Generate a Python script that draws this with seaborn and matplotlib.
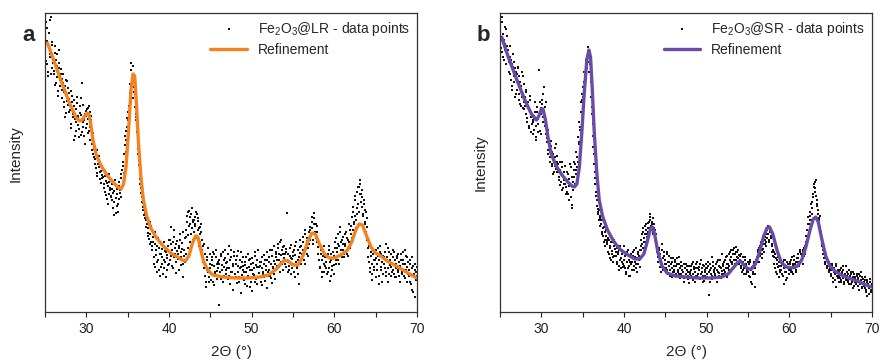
import numpy as np
import pandas as pd
import matplotlib
matplotlib.use('Agg')
import matplotlib.pyplot as plt
from matplotlib.ticker import MultipleLocator
import seaborn as sns

# scan grid: 25.0 .. 70.0 deg (0.1 steps) plus the half steps in between
two_theta = np.round(np.arange(250, 701) / 10, 1)
two_theta_half = np.round(np.arange(250, 700) / 10 + 0.05, 2)

# Fe2O3@LR data points (intensity, arbitrary units), one row per degree
lr_points = [
    262, 290, 248, 271, 236, 279, 258, 295, 244, 267,
    252, 238, 266, 229, 246, 258, 221, 249, 232, 243,
    233, 214, 229, 205, 226, 199, 218, 231, 207, 213,
    202, 221, 188, 210, 195, 212, 176, 203, 190, 215,
    194, 183, 206, 177, 197, 229, 185, 192, 168, 201,
    196, 188, 204, 181, 200, 172, 192, 162, 179, 155,
    161, 148, 157, 139, 152, 145, 133, 150, 141, 137,
    142, 128, 136, 120, 131, 113, 126, 138, 118, 124,
    116, 128, 104, 121, 110, 132, 99, 118, 108, 126,
    130, 119, 138, 125, 146, 158, 139, 167, 172, 185,
    178, 192, 206, 219, 249, 232, 238, 214, 225, 205,
    198, 186, 171, 158, 147, 133, 124, 115, 109, 102,
    106, 98, 92, 88, 79, 84, 73, 90, 70, 81,
    62, 75, 48, 68, 57, 40, 66, 52, 71, 58,
    45, 63, 55, 38, 70, 50, 60, 42, 57, 66,
    48, 72, 56, 85, 62, 44, 75, 58, 68, 39,
    71, 53, 64, 78, 47, 60, 69, 35, 56, 74,
    58, 82, 96, 77, 101, 88, 70, 98, 84, 92,
    80, 95, 88, 100, 76, 91, 84, 70, 78, 88,
    62, 50, 68, 36, 48, 25, 55, 40, 30, 58,
    44, 32, 52, 60, 27, 46, 38, 55, 41, 50,
    7, 48, 35, 58, 42, 30, 52, 45, 62, 38,
    50, 33, 66, 44, 28, 55, 40, 48, 22, 60,
    38, 52, 29, 46, 61, 35, 44, 19, 50, 42,
    55, 32, 47, 40, 26, 58, 36, 45, 53, 30,
    42, 21, 49, 37, 56, 33, 45, 28, 62, 39,
    35, 50, 27, 44, 38, 57, 31, 46, 24, 52,
    40, 55, 36, 48, 29, 62, 44, 51, 33, 58,
    60, 46, 68, 52, 40, 72, 57, 48, 65, 54,
    58, 45, 63, 99, 50, 42, 56, 67, 38, 53,
    48, 62, 35, 57, 70, 44, 52, 28, 65, 59,
    66, 54, 75, 60, 48, 82, 63, 71, 56, 68,
    72, 85, 78, 95, 68, 88, 99, 80, 74, 86,
    65, 52, 70, 44, 58, 35, 62, 48, 40, 55,
    50, 38, 58, 44, 66, 31, 52, 42, 60, 47,
    56, 70, 48, 64, 78, 52, 66, 85, 58, 72,
    62, 75, 55, 68, 80, 58, 72, 64, 88, 70,
    78, 95, 82, 105, 88, 112, 92, 120, 98, 108,
    125, 132, 118, 105, 115, 96, 108, 90, 100, 85,
    72, 55, 66, 40, 60, 48, 32, 58, 45, 52,
    35, 62, 48, 56, 28, 66, 42, 58, 50, 38,
    55, 44, 68, 40, 52, 30, 60, 47, 36, 58,
    48, 62, 38, 52, 44, 35, 56, 42, 50, 30,
    45, 58, 40, 52, 36, 62, 48, 42, 55, 38,
    42, 30, 52, 38, 22, 46, 35, 48, 15, 40,
    36,
]
lr_points_half = [
    275, 251, 284, 240, 266, 292, 255, 238, 270, 249,
    241, 259, 227, 252, 235, 216, 244, 262, 226, 238,
    222, 238, 210, 220, 195, 232, 211, 224, 200, 219,
    208, 184, 216, 198, 172, 206, 193, 181, 209, 196,
    187, 175, 199, 214, 180, 190, 207, 176, 198, 184,
    203, 193, 179, 206, 185, 196, 168, 174, 158, 163,
    153, 144, 162, 136, 148, 156, 140, 129, 146, 134,
    135, 124, 141, 117, 129, 138, 108, 130, 122, 115,
    123, 112, 119, 97, 127, 114, 106, 123, 100, 113,
    122, 134, 115, 142, 150, 132, 176, 160, 181, 194,
    200, 186, 228, 210, 242, 226, 246, 220, 218, 195,
    192, 180, 163, 152, 140, 128, 119, 110, 105, 97,
    100, 94, 85, 96, 76, 88, 68, 78, 86, 66,
    70, 55, 80, 45, 62, 50, 74, 42, 64, 36,
    58, 48, 66, 52, 44, 61, 35, 54, 47, 72,
    60, 52, 68, 46, 70, 55, 82, 64, 50, 61,
    58, 66, 42, 72, 55, 63, 48, 80, 62, 50,
    75, 90, 64, 100, 86, 95, 78, 104, 90, 72,
    92, 86, 74, 98, 82, 94, 66, 85, 80, 72,
    56, 66, 44, 58, 30, 52, 42, 64, 35, 48,
    38, 55, 47, 30, 58, 40, 62, 33, 48, 44,
    52, 40, 56, 33, 47, 60, 36, 54, 42, 49,
    44, 58, 36, 52, 40, 62, 34, 46, 56, 38,
    48, 35, 56, 40, 30, 52, 45, 60, 37, 46,
    40, 50, 28, 55, 44, 36, 52, 42, 25, 48,
    54, 38, 44, 60, 30, 47, 52, 35, 45, 50,
    46, 30, 55, 40, 48, 35, 52, 42, 60, 36,
    50, 42, 62, 34, 56, 45, 38, 66, 48, 55,
    52, 64, 45, 58, 70, 50, 62, 42, 58, 66,
    48, 60, 52, 40, 58, 46, 64, 54, 44, 60,
    56, 40, 66, 50, 45, 62, 38, 55, 72, 48,
    58, 70, 62, 52, 78, 66, 58, 74, 64, 80,
    82, 76, 90, 84, 72, 94, 78, 88, 70, 80,
    58, 68, 45, 62, 52, 40, 56, 66, 46, 50,
    44, 55, 40, 62, 50, 36, 58, 46, 54, 38,
    64, 52, 74, 60, 68, 48, 80, 62, 70, 55,
    68, 58, 78, 66, 60, 74, 56, 70, 82, 64,
    86, 74, 100, 90, 96, 116, 84, 104, 125, 100,
    118, 128, 110, 122, 98, 112, 88, 102, 80, 94,
    64, 50, 70, 44, 56, 38, 62, 52, 42, 60,
    54, 42, 64, 36, 52, 60, 45, 30, 56, 48,
    48, 60, 36, 55, 44, 64, 38, 52, 45, 40,
    55, 42, 60, 35, 48, 54, 40, 58, 36, 46,
    52, 38, 48, 60, 42, 34, 56, 45, 30, 50,
    36, 48, 28, 44, 55, 20, 38, 42, 32, 45,
]

# Fe2O3@SR data points
sr_points = [
    288, 272, 295, 260, 278, 252, 268, 283, 258, 266,
    262, 240, 255, 232, 248, 226, 258, 236, 244, 218,
    238, 222, 245, 212, 230, 206, 226, 215, 236, 203,
    215, 198, 222, 190, 206, 184, 212, 195, 200, 188,
    178, 196, 210, 186, 172, 200, 193, 242, 181, 204,
    198, 212, 190, 225, 205, 192, 178, 170, 162, 168,
    160, 150, 171, 146, 158, 140, 155, 164, 143, 150,
    148, 135, 142, 127, 138, 150, 124, 140, 132, 128,
    125, 140, 118, 133, 112, 128, 145, 107, 122, 150,
    135, 148, 160, 145, 175, 168, 190, 185, 210, 218,
    198, 225, 240, 232, 252, 244, 258, 265, 262, 248,
    230, 205, 188, 165, 148, 134, 120, 112, 103, 98,
    102, 94, 88, 80, 92, 76, 85, 72, 82, 70,
    68, 74, 58, 66, 52, 70, 61, 55, 72, 63,
    56, 64, 48, 60, 42, 66, 54, 50, 62, 45,
    52, 44, 58, 38, 50, 62, 46, 36, 55, 48,
    50, 60, 42, 55, 48, 64, 40, 58, 52, 45,
    62, 72, 68, 80, 74, 86, 70, 82, 78, 89,
    84, 92, 98, 86, 90, 80, 88, 76, 82, 70,
    66, 55, 62, 45, 58, 50, 68, 42, 56, 48,
    52, 44, 60, 38, 50, 56, 42, 48, 35, 54,
    46, 40, 52, 36, 48, 42, 55, 38, 44, 50,
    42, 36, 48, 30, 44, 38, 46, 33, 40, 29,
    40, 46, 34, 50, 38, 43, 30, 48, 36, 44,
    38, 45, 33, 52, 40, 36, 47, 31, 42, 48,
    44, 35, 50, 17, 42, 38, 55, 33, 46, 40,
    37, 48, 42, 30, 52, 39, 45, 34, 58, 41,
    46, 38, 52, 44, 56, 35, 48, 42, 60, 50,
    55, 48, 62, 45, 58, 65, 52, 60, 50, 57,
    52, 46, 58, 40, 50, 44, 55, 38, 48, 42,
    40, 48, 35, 52, 30, 45, 38, 50, 25, 44,
    48, 55, 62, 50, 66, 58, 70, 54, 63, 60,
    68, 75, 70, 82, 78, 85, 72, 80, 74, 66,
    62, 55, 48, 58, 40, 52, 45, 35, 50, 42,
    46, 38, 50, 28, 44, 52, 40, 34, 48, 42,
    44, 50, 40, 55, 46, 38, 52, 48, 42, 54,
    50, 58, 46, 62, 52, 56, 60, 48, 64, 58,
    70, 82, 76, 95, 88, 100, 92, 110, 104, 118,
    128, 120, 132, 112, 106, 98, 92, 85, 80, 72,
    66, 58, 62, 50, 55, 44, 52, 46, 40, 48,
    42, 36, 48, 30, 44, 38, 46, 25, 40, 34,
    40, 34, 44, 30, 38, 42, 28, 36, 46, 32,
    36, 30, 42, 34, 28, 38, 32, 40, 26, 35,
    34, 28, 38, 32, 22, 36, 30, 40, 25, 33,
    30, 24, 35, 20, 32, 28, 18, 30, 26, 22,
    28,
]
sr_points_half = [
    280, 264, 290, 255, 272, 262, 285, 248, 276, 256,
    250, 266, 238, 252, 222, 245, 230, 250, 215, 240,
    230, 244, 218, 236, 208, 222, 240, 204, 228, 210,
    206, 220, 194, 210, 186, 202, 216, 180, 198, 192,
    190, 182, 200, 175, 205, 188, 180, 196, 210, 178,
    208, 195, 218, 200, 186, 210, 174, 182, 158, 172,
    155, 166, 148, 160, 138, 152, 146, 168, 140, 156,
    140, 132, 150, 130, 145, 122, 136, 128, 146, 118,
    132, 120, 138, 126, 148, 115, 135, 104, 130, 142,
    128, 142, 138, 155, 150, 170, 182, 176, 200, 212,
    215, 230, 222, 248, 238, 256, 250, 240, 258, 236,
    215, 198, 176, 158, 140, 128, 116, 106, 100, 92,
    96, 86, 92, 78, 84, 70, 80, 66, 76, 72,
    60, 72, 54, 64, 70, 58, 50, 66, 56, 70,
    60, 50, 58, 46, 62, 52, 44, 58, 48, 66,
    46, 56, 40, 60, 44, 52, 36, 50, 58, 42,
    56, 46, 62, 50, 44, 54, 60, 48, 56, 62,
    66, 78, 64, 84, 70, 78, 88, 75, 84, 80,
    90, 95, 82, 88, 94, 78, 84, 72, 78, 64,
    60, 50, 64, 52, 40, 62, 48, 54, 60, 44,
    48, 58, 42, 50, 46, 36, 54, 44, 50, 40,
    42, 50, 38, 46, 54, 40, 48, 34, 46, 38,
    46, 40, 34, 44, 38, 48, 42, 36, 46, 38,
    36, 42, 48, 32, 45, 40, 36, 44, 50, 38,
    42, 34, 48, 38, 44, 30, 46, 40, 36, 44,
    38, 46, 40, 30, 48, 44, 36, 50, 42, 38,
    44, 34, 50, 40, 46, 36, 52, 44, 38, 48,
    42, 50, 40, 55, 48, 44, 58, 46, 52, 62,
    50, 58, 52, 64, 48, 60, 55, 62, 54, 48,
    56, 44, 50, 42, 55, 38, 52, 46, 40, 50,
    44, 36, 50, 42, 28, 46, 40, 48, 38, 52,
    52, 60, 50, 64, 56, 66, 62, 58, 68, 72,
    72, 66, 78, 74, 86, 70, 82, 76, 68, 60,
    56, 60, 44, 54, 48, 38, 55, 46, 40, 50,
    42, 48, 36, 52, 40, 46, 32, 50, 44, 38,
    48, 42, 52, 40, 48, 56, 44, 40, 50, 46,
    54, 48, 60, 50, 58, 52, 62, 56, 66, 60,
    76, 72, 88, 80, 96, 92, 108, 98, 115, 125,
    124, 130, 116, 108, 102, 94, 96, 82, 76, 68,
    62, 54, 64, 48, 58, 46, 50, 42, 50, 44,
    38, 46, 34, 44, 40, 32, 48, 36, 42, 30,
    36, 42, 32, 40, 34, 46, 30, 38, 34, 40,
    32, 38, 28, 36, 40, 30, 35, 24, 38, 30,
    30, 36, 26, 34, 38, 28, 32, 24, 35, 28,
    26, 32, 22, 30, 16, 28, 24, 33, 20, 26,
]

# refinement curves
lr_fit_x = [25.3, 26.0, 27.0, 28.0, 28.8, 29.2, 29.5, 29.8, 30.1, 30.3, 30.5, 30.8,
            31.2, 31.8, 32.5, 33.2, 33.8, 34.2, 34.5, 34.8, 35.1, 35.4, 35.65, 35.85,
            36.05, 36.3, 36.6, 36.9, 37.3, 37.8, 38.5, 39.3, 40.2, 41.0, 41.6, 42.0,
            42.4, 42.8, 43.2, 43.5, 43.8, 44.2, 44.7, 45.3, 46.5, 48.0, 49.5, 51.0,
            52.0, 53.0, 53.6, 54.0, 54.4, 55.0, 55.6, 56.2, 56.8, 57.3, 57.7, 58.2,
            58.8, 59.4, 60.0, 60.8, 61.6, 62.1, 62.6, 63.0, 63.4, 63.9, 64.5, 65.0,
            65.6, 66.4, 67.5, 68.5, 69.3, 70.0]
lr_fit_y = [269, 253, 230, 208, 194, 191, 192, 196, 199, 198, 190, 172,
            157, 146, 137, 130, 125, 123, 128, 145, 180, 222, 238, 236,
            210, 170, 135, 112, 96, 84, 74, 66, 59, 55, 52, 51,
            56, 68, 76, 75, 64, 50, 42, 37, 35, 34, 34, 35,
            37, 43, 49, 52, 51, 47, 47, 56, 71, 79, 78, 68,
            58, 54, 54, 57, 62, 70, 82, 88, 87, 76, 64, 59,
            56, 51, 46, 41, 37, 34]

sr_fit_x = [25.2, 26.0, 27.0, 28.0, 28.8, 29.4, 29.7, 30.0, 30.2, 30.5, 30.8, 31.2,
            31.8, 32.5, 33.2, 33.7, 34.0, 34.3, 34.6, 34.9, 35.2, 35.5, 35.75, 35.95,
            36.15, 36.4, 36.7, 37.0, 37.4, 38.0, 38.8, 39.6, 40.5, 41.3, 41.9, 42.4,
            42.8, 43.2, 43.45, 43.7, 44.1, 44.6, 45.2, 46.2, 47.5, 49.0, 50.5, 51.8,
            52.6, 53.3, 53.8, 54.1, 54.5, 55.0, 55.4, 55.9, 56.4, 56.9, 57.3, 57.6,
            58.0, 58.5, 59.0, 59.6, 60.3, 61.0, 61.5, 62.0, 62.5, 62.9, 63.2, 63.5,
            63.9, 64.4, 64.9, 65.5, 66.5, 67.5, 68.5, 69.3, 70.0]
sr_fit_y = [275, 255, 233, 212, 198, 192, 196, 203, 203, 192, 175, 158,
            146, 137, 130, 126, 125, 128, 145, 180, 220, 252, 262, 255,
            225, 180, 140, 112, 96, 82, 70, 62, 57, 53, 53, 58,
            70, 83, 85, 78, 60, 46, 39, 36, 35, 34, 34, 35,
            38, 45, 50, 51, 47, 43, 43, 48, 60, 76, 84, 85,
            78, 62, 50, 45, 44, 46, 52, 65, 82, 93, 95, 90,
            74, 56, 46, 41, 36, 33, 30, 27, 25]

panels = [
    dict(tag='a', pts=lr_points, half=lr_points_half, fx=lr_fit_x, fy=lr_fit_y,
         color='#f5821f', label='Fe$_2$O$_3$@LR - data points', left=45,
         ylab_x=-0.059, ylab_y=0.53),
    dict(tag='b', pts=sr_points, half=sr_points_half, fx=sr_fit_x, fy=sr_fit_y,
         color='#6a4ca8', label='Fe$_2$O$_3$@SR - data points', left=500,
         ylab_x=-0.032, ylab_y=0.5),
]

sns.set_theme(style='ticks')
plt.rcParams['font.family'] = ['Liberation Sans', 'DejaVu Sans']
plt.rcParams['mathtext.default'] = 'regular'

W, H = 880, 364
fig = plt.figure(figsize=(8.8, 3.64), dpi=100)

for p in panels:
    ax = fig.add_axes([p['left'] / W, 1 - 312 / H, 372 / W, 299 / H])
    pts = pd.concat([pd.DataFrame({'x': two_theta, 'y': p['pts']}),
                     pd.DataFrame({'x': two_theta_half, 'y': p['half']})])
    fit = pd.DataFrame({'x': p['fx'], 'y': p['fy']})
    sns.scatterplot(data=pts, x='x', y='y', ax=ax, marker='s', s=3.0, color='#111111',
                    linewidth=0, label=p['label'])
    sns.lineplot(data=fit, x='x', y='y', ax=ax, color=p['color'], linewidth=2.4,
                 label='Refinement')
    ax.set_xlim(25, 70)
    ax.set_ylim(0, 299)
    ax.xaxis.set_major_locator(MultipleLocator(10))
    ax.xaxis.set_minor_locator(MultipleLocator(5))
    ax.set_yticks([])
    ax.tick_params(axis='x', which='both', direction='out', length=3.5, width=0.8,
                   labelsize=10, pad=4, colors='#222222')
    for sp in ax.spines.values():
        sp.set_visible(True)
        sp.set_linewidth(0.9)
        sp.set_color('#333333')
    ax.set_xlabel('2Θ (°)', fontsize=11, labelpad=6)
    ax.set_ylabel('Intensity', fontsize=11)
    ax.yaxis.set_label_coords(p['ylab_x'], p['ylab_y'])
    ax.legend(loc='upper right', frameon=False, fontsize=10, handlelength=2.6,
              handletextpad=0.8, borderaxespad=0.1, labelspacing=0.35,
              markerscale=1.2)
    fig.text((p['left'] - 23) / W, 1 - 41 / H, p['tag'], fontsize=16,
             fontweight='bold', ha='left', va='baseline')

fig.savefig('out.png', dpi=100)
